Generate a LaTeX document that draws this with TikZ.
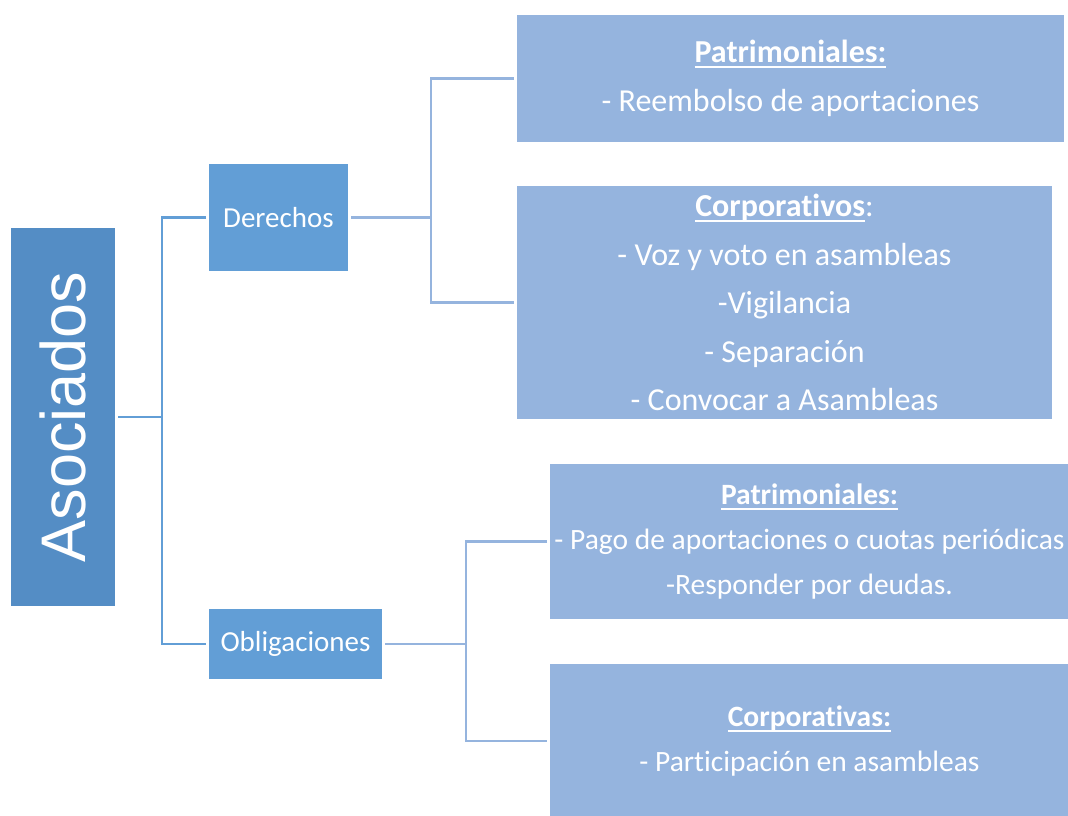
\documentclass[tikz,border=0pt]{standalone}
\usepackage{fontspec}
\setmainfont{Carlito}[Ligatures={NoCommon}]
\newfontfamily\arialfont{Liberation Sans}
\usepackage{xcolor}
\definecolor{asoblue}{RGB}{84,141,197}
\definecolor{midblue}{RGB}{98,158,214}
\definecolor{leafblue}{RGB}{149,180,222}
\newcommand{\titulo}[1]{\setbox0=\hbox{\bfseries #1}\rlap{\rule[-0.17em]{\wd0}{0.06em}}\box0}
\tikzset{
    basebox/.style={draw=white, line width=1.2pt, text=white, inner sep=0pt,
        outer sep=2pt, align=center},
    rootbox/.style={basebox, fill=asoblue, font=\arialfont\fontsize{63}{70}\selectfont},
    midbox/.style={basebox, fill=midblue, font=\fontsize{29}{35}\selectfont},
    leafbox/.style={basebox, fill=leafblue},
    bigleaf/.style={leafbox, font=\fontsize{32}{48.5}\selectfont},
    smallleaf/.style={leafbox, font=\fontsize{29.5}{45}\selectfont},
    link/.style={draw=#1, line width=2.8pt},
    link/.default={midblue}
}

\begin{document}
\begin{tikzpicture}[x=1pt, y=-1pt]
      \useasboundingbox (0, 0) rectangle (1068, 815);
      \node[rootbox, minimum width=106, minimum height=380] (aso) at (63, 417) {\rotatebox{90}{Asociados}};
      \node[midbox, minimum width=141, minimum height=109] (der) at (278.5, 217.5) {Derechos};
      \node[midbox, minimum width=175, minimum height=72] (obl) at (295.5, 644) {Obligaciones};
      \node[bigleaf, minimum width=549, minimum height=129] (patder) at (790.5, 78.5)
        {\titulo{Patrimoniales:}\\- Reembolso de aportaciones};
      \node[bigleaf, minimum width=537, minimum height=235] (corder) at (784.5, 302.5)
        {\titulo{Corporativos}:\\- Voz y voto en asambleas\\-Vigilancia\\- Separación\\- Convocar a Asambleas};
      \node[smallleaf, minimum width=521, minimum height=157] (patobl) at (809.5, 541.5)
        {\titulo{Patrimoniales:}\\- Pago de aportaciones o cuotas periódicas\\-Responder por deudas.};
      \node[smallleaf, minimum width=521, minimum height=156] (corobl) at (809.5, 741)
        {\titulo{Corporativas:}\\- Participación en asambleas};
      % junctions
      \coordinate (jaso) at (162, 417);
      \coordinate (jder) at (431, 217.5);
      \coordinate (jobl) at (466, 644);
      \draw[link] (aso.east) -- (jaso);
      \draw[link] (der.west) -| (jaso) |- (obl.west);
      \draw[link=leafblue] (der.east) -- (jder);
      \draw[link=leafblue] (patder.west) -| (jder) |- (corder.west);
      \draw[link=leafblue] (obl.east) -- (jobl);
      \draw[link=leafblue] (patobl.west) -| (jobl) |- (corobl.west);
    \end{tikzpicture}
\end{document}
